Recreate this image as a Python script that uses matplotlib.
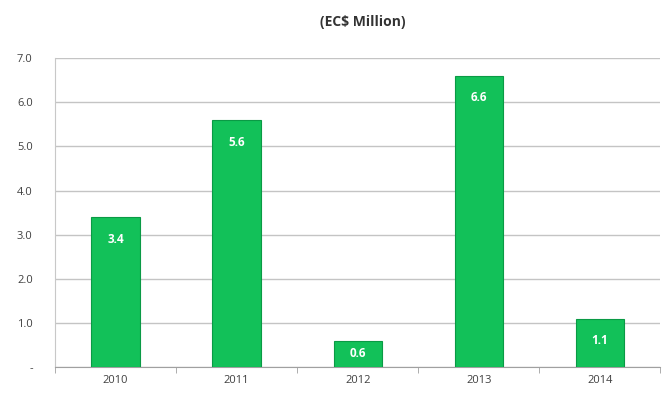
import matplotlib
matplotlib.use("Agg")
import matplotlib.pyplot as plt
import numpy as np

years = ["2010", "2011", "2012", "2013", "2014"]
values = [3.4, 5.6, 0.6, 6.6, 1.1]
yticks = [0, 1, 2, 3, 4, 5, 6, 7]
ytick_labels = ["-", "1.0", "2.0", "3.0", "4.0", "5.0", "6.0", "7.0"]
title = "(EC$ Million)"

plt.rcParams['font.family'] = ['Open Sans', 'DejaVu Sans']

fig = plt.figure(figsize=(6.65, 3.93), dpi=100)
ax = fig.add_axes([0.0827, 0.066, 0.9105, 0.786])

x = np.arange(len(years))
ax.bar(x, values, width=0.4, color="#12c159", edgecolor="#0a9a45", linewidth=0.8, zorder=3)
for xi, v in zip(x, values):
    ax.text(xi, v - min(0.5, v / 2), f"{v:.1f}", ha="center", va="center", color="white",
            fontsize=8.5, fontweight="bold", zorder=4)

ax.set_xlim(-0.5, len(years) - 0.5)
ax.set_ylim(0, 7)
ax.set_yticks(yticks)
ax.set_yticklabels(ytick_labels, fontsize=8, color="#404040")
ax.set_xticks(x)
ax.set_xticklabels(years, fontsize=8, color="#404040")
ax.tick_params(axis="y", length=0, pad=16)
ax.tick_params(axis="x", length=0, pad=6)
ax.set_xticks(np.arange(-0.5, len(years)), minor=True)
ax.tick_params(axis="x", which="minor", length=4, color="#a0a0a0", direction="out")

ax.yaxis.grid(True, color="#c4c4c4", linewidth=1.0, zorder=0)
for s in ["top", "right"]:
    ax.spines[s].set_visible(False)
ax.spines["left"].set_color("#c8c8c8")
ax.spines["bottom"].set_color("#a0a0a0")

fig.text(0.545, 0.945, title, ha="center", va="center", fontsize=10, fontweight="bold", color="#333333")

fig.savefig("out.png", dpi=100)
